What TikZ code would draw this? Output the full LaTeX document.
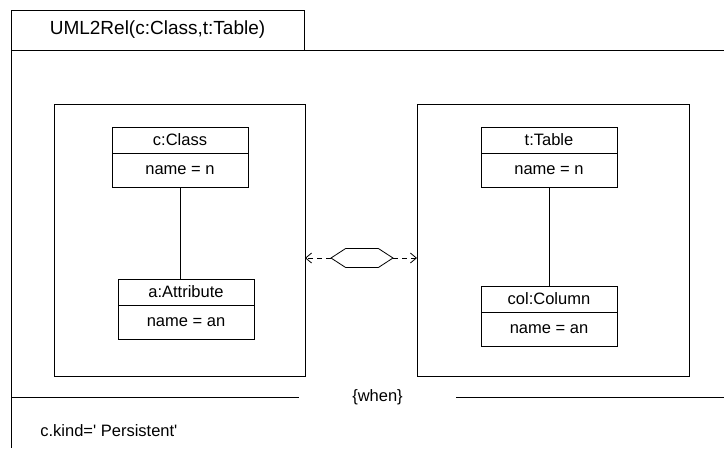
\documentclass[tikz,border=0pt]{standalone}
\usepackage{fontspec}
\setmainfont{Liberation Sans}
\usetikzlibrary{positioning,shapes.symbols,arrows.meta}

\begin{document}
\begin{tikzpicture}[x=1pt, y=-1pt, line width=0.8pt, font=\fontsize{16.5}{19}\selectfont,
    head/.style = {draw, minimum width=136pt, minimum height=26pt, inner sep=0pt, outer sep=0pt},
    body/.style = {draw, minimum width=136pt, minimum height=34pt, inner sep=0pt, outer sep=0pt},
    side/.style = {draw, minimum height=272pt, inner sep=0pt, outer sep=0pt},
    link/.style = {dash pattern=on 5pt off 4pt, -{Straight Barb[length=6pt,width=10pt]}}] 

    \useasboundingbox (0,0) rectangle (724,448);

    \node[draw, minimum width=293pt, minimum height=40pt, anchor=north west, outer sep=0pt, font=\fontsize{19}{22}\selectfont] (title) at (11,10) {UML2Rel(c:Class,t:Table)};
    \coordinate (bl) at (11,448);
    \coordinate (tr) at (724,50);
    \draw (title.north west) -- (bl);
    \draw (title.south west) -- (tr);

    \node[side, minimum width=251pt] (lhs) at (179.5,240) {};
    \node[side, minimum width=272pt] (rhs) at (553,240) {};

    \node[head] (c) at (180,140) {c:Class};
    \node[body] (cn) [below=0pt of c] {name = n};
    \node[head] (a) at (186,292) {a:Attribute};
    \node[body] (an) [below=0pt of a] {name = an};
    \node[head] (t) at (549,140) {t:Table};
    \node[body] (tn) [below=0pt of t] {name = n};
    \node[head] (col) at (549,299) {col:Column};
    \node[body] (coln) [below=0pt of col] {name = an};

    \draw (cn.south) -- (cn.south |- a.north);
    \draw (tn) -- (col);

    \node[signal, draw, signal to=west and east, signal pointer angle=66, minimum width=62pt, minimum height=19pt, inner sep=0pt, outer sep=0pt] (hex) at (362,258) {};
    \draw[link] (hex.west) -- (hex.west -| lhs.east);
    \draw[link] (hex.east) -- (hex.east -| rhs.west);

    \node[minimum width=157pt, inner sep=0pt, outer sep=0pt] (when) at (377.5,397) {\{when\}};
    \coordinate (wl) at (11,397);
    \coordinate (wr) at (724,397);
    \draw (wl) -- (when);
    \draw (when) -- (wr);

    \node[anchor=west, inner sep=0pt] (cond) at (40,431) {c.kind=\textquotesingle\ Persistent\textquotesingle};

\end{tikzpicture}
\end{document}
